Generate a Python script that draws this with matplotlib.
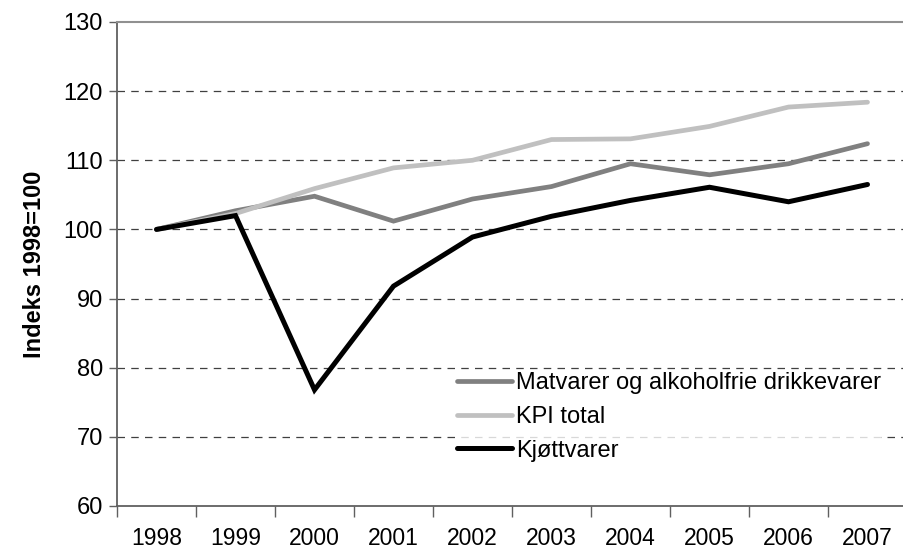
import matplotlib.pyplot as plt
import numpy as np

plt.rcParams['font.family'] = ['Liberation Sans', 'DejaVu Sans']

# data
years = ['1998', '1999', '2000', '2001', '2002', '2003', '2004', '2005', '2006', '2007']
matvarer = [100, 102.7, 104.8, 101.2, 104.4, 106.2, 109.5, 107.9, 109.5, 112.4]
kpi = [100, 102.3, 105.9, 108.9, 110.0, 113.0, 113.1, 114.9, 117.7, 118.4]
kjott = [100, 102.0, 76.8, 91.8, 98.9, 101.9, 104.2, 106.1, 104.0, 106.5]

fig = plt.figure(figsize=(9.04, 5.52), dpi=100)
ax = fig.add_axes([117/904, 46/552, 790/904, 484/552])

x = np.arange(len(years))
ax.plot(x, matvarer, color='#808080', lw=3.4, solid_capstyle='round', solid_joinstyle='miter',
        label='Matvarer og alkoholfrie drikkevarer')
ax.plot(x, kpi, color='#c0c0c0', lw=3.4, solid_capstyle='round', solid_joinstyle='miter',
        label='KPI total')
ax.plot(x, kjott, color='black', lw=3.6, solid_capstyle='round', solid_joinstyle='miter',
        label='Kjøttvarer')

ax.set_xlim(-0.5, len(years) - 0.5)
ax.set_ylim(60, 130)
ax.set_yticks(range(60, 131, 10))
ax.tick_params(axis='y', labelsize=17, length=6, width=1, color='#606060', pad=4)

# category labels in the middle, tick marks between categories
ax.set_xticks(x)
ax.set_xticklabels(years)
ax.tick_params(axis='x', which='major', length=0, labelsize=16.5, pad=15)
ax.set_xticks(np.arange(-0.5, len(years)), minor=True)
ax.tick_params(axis='x', which='minor', length=8, width=1, color='#606060')

for v in range(70, 130, 10):
    ax.axhline(v, color='#404040', lw=0.9, dashes=(6, 5), zorder=0)

ax.spines['right'].set_visible(False)
ax.spines['top'].set_color('#909090')
ax.spines['top'].set_linewidth(1.5)
ax.spines['left'].set_color('#606060')
ax.spines['left'].set_linewidth(1.3)
ax.spines['bottom'].set_color('#606060')
ax.spines['bottom'].set_linewidth(1.3)

ax.set_ylabel('Indeks 1998=100', fontsize=17, fontweight='bold', labelpad=13)

leg = ax.legend(loc='upper left', bbox_to_anchor=((457 - 117) / 790, (506 - 372) / 484),
                frameon=True, fontsize=17, handlelength=2.35, handletextpad=0.15,
                labelspacing=0.5, borderaxespad=0, borderpad=0, fancybox=False)
leg.get_frame().set_facecolor('white')
leg.get_frame().set_edgecolor('none')

fig.savefig('out.png', dpi=100)
